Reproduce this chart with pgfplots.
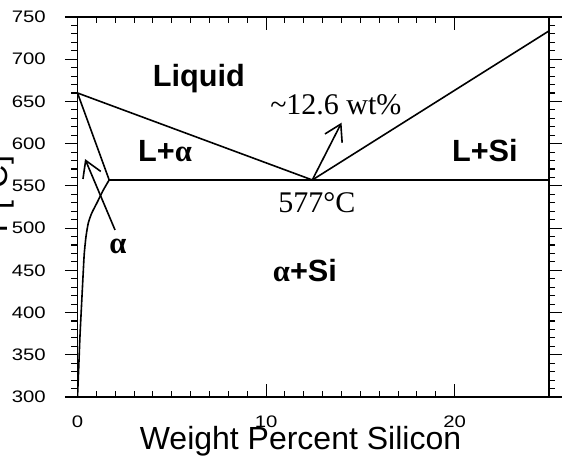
\documentclass[border=0pt]{standalone}
\usepackage{fontspec}
\setmainfont{Liberation Sans}
\newfontfamily\serif{Liberation Serif}
\usepackage{graphicx}
\usepackage{pgfplots}
\pgfplotsset{compat=1.18}
\usetikzlibrary{arrows.meta}
\newcommand\tklab[1]{{\fontsize{12.5}{12.5}\selectfont\scalebox{1.22}[1]{#1}}}
\begin{document}
\begin{tikzpicture}
\begin{axis}[
  scale only axis, width=353.6pt, height=285pt,
  at={(0,0)}, anchor=south west,
  xmin=0, xmax=25, ymin=300, ymax=750,
  axis line style={line width=0.9pt},
  major tick length=9.4pt, minor tick length=4.5pt,
  xtick={0,10,20}, minor x tick num=9, ytick=\empty,
  xticklabels={{\tklab{0}},{\tklab{10}},{\tklab{20}}},
  xtick align=inside,
  xtick style={line width=0.8pt, black},
  xticklabel style={black, anchor=north, inner sep=0pt, yshift=-14.25pt},
  xlabel={Weight Percent Silicon},
  xlabel style={at={(axis description cs:0.473,-0.138)}, anchor=base, font=\fontsize{24}{24}\selectfont},
  ylabel={T [°C]},
  ylabel style={at={(axis description cs:-0.1495,0.526)}, anchor=base, font=\fontsize{24}{24}\selectfont},
]
% liquidus
\addplot[line width=1.2pt] coordinates {(0,660) (12.45,557) (25,733.5)};
% solidus and eutectic line
\addplot[line width=1.2pt] coordinates {(0,660) (1.68,557) (25,557)};
% solvus
\addplot[line width=1.2pt, smooth, tension=0.4] coordinates {
(1.68,557) (1.37,545.1) (1.02,529.4) (0.75,517.5) (0.57,505.7) (0.45,489.8)
(0.36,470.2) (0.31,450.4) (0.22,411.3) (0.13,371.4) (0.06,331.9) (0,300)};
% arrows
\addplot[line width=1.2pt, -{Straight Barb[length=12pt,width=14.5pt]}] coordinates {(1.99,497.8) (0.40,581.8)};
\addplot[line width=1.2pt, -{Straight Barb[length=12pt,width=14.5pt]}] coordinates {(12.45,557) (14.0,624.8)};
% region labels
\node[anchor=base, font=\bfseries\fontsize{23}{23}\selectfont] at (axis cs:6.44,667.1) {Liquid};
\node[anchor=base, font=\bfseries\fontsize{23}{23}\selectfont] at (axis cs:4.64,578.3) {L+{\serif α}};
\node[anchor=base, font=\bfseries\fontsize{23}{23}\selectfont] at (axis cs:21.6,578.3) {L+Si};
\node[anchor=base, font=\bfseries\fontsize{23}{23}\selectfont] at (axis cs:12.06,436.2) {{\serif α}+Si};
\node[anchor=base, font=\bfseries\fontsize{23}{23}\selectfont] at (axis cs:2.15,470.5) {{\serif α}};
\node[anchor=base, font=\serif\fontsize{22.5}{22.5}\selectfont] at (axis cs:13.70,634) {\textasciitilde12.6 wt\%};
\node[anchor=base, font=\serif\fontsize{22.5}{22.5}\selectfont] at (axis cs:12.69,517.9) {577°C};
\end{axis}
\begin{axis}[
  scale only axis, width=353.6pt, height=285pt,
  at={(0,0)}, anchor=south west,
  xmin=0, xmax=25, ymin=300, ymax=750,
  axis line style={line width=0.9pt},
  major tick length=9.4pt, minor tick length=4.5pt,
  xtick=\empty, ytick={300,350,400,450,500,550,600,650,700,750}, minor y tick num=4,
  yticklabels={{\tklab{300}},{\tklab{350}},{\tklab{400}},{\tklab{450}},{\tklab{500}},{\tklab{550}},{\tklab{600}},{\tklab{650}},{\tklab{700}},{\tklab{750}}},
  ytick align=outside,
  ytick style={line width=0.8pt, black},
  yticklabel style={black, anchor=east, inner sep=0pt, xshift=-14.25pt},
]
\end{axis}
\pgfresetboundingbox
\useasboundingbox (-58.125pt,-54.75pt) rectangle (367.875pt,297.75pt);
\end{tikzpicture}
\end{document}
